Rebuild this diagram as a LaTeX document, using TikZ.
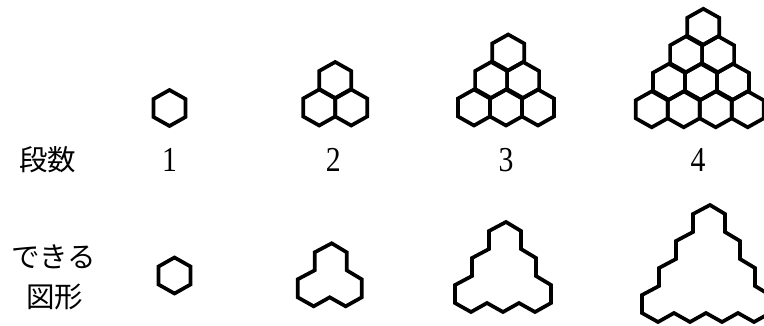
\documentclass[tikz,border=0pt]{standalone}
\usepackage{fontspec}
\usepackage{amsmath}
\newfontfamily\jpfont{Noto Sans CJK JP}
\newfontfamily\digitfont{Liberation Serif}
\usetikzlibrary{positioning}
% one cell of the stack, centred on the given point
\newcommand{\hexcell}[2]{\draw[cell] (#1,#2-18) -- ++(16,9) -- ++(0,18) -- ++(-16,9) -- ++(-16,-9) -- ++(0,-18) -- cycle;}

\begin{document}
\begin{tikzpicture}[x=1pt,y=-1pt,
  cell/.style={line width=3.7pt,black,line join=miter},
  rim/.style={line width=3.7pt,black,line join=miter},
  head/.style={font=\jpfont\fontsize{28.5}{34}\selectfont,align=center,inner sep=0pt},
  num/.style={font=\digitfont\fontsize{35}{40}\selectfont,inner sep=0pt,transform shape,xscale=0.85}]
\useasboundingbox (0,0) rectangle (764,325);
% upper row
\foreach \cx/\by/\n/\sk in {169.5/108/1/0, 335.2/107.5/2/0, 506/107.5/3/1.1, 699.7/109.3/4/1.2}
  {\foreach \r in {1,...,\n}
    {\foreach \k in {1,...,\r}
      {\pgfmathsetmacro{\hx}{\cx+(\k-(\r+1)/2)*32+(\n-\r)*\sk}
       \pgfmathsetmacro{\hy}{\by-(\n-\r)*27.5}
       \hexcell{\hx}{\hy}}}}
\node[head] (dan) at (48,160) {段数};
\foreach \n/\x in {1/169.5, 2/333.3, 3/506, 4/698}
  \node[num] (num\n) at (\x,160) {\n};
% lower row
\foreach \ax/\ay/\n/\dl/\dr in {174.5/257.5/1/16/16, 331.7/243.3/2/17/15, 506/222/3/17/15, 710/205/4/17/15}
  {\draw[rim] (\ax,\ay)
     \foreach \i in {1,...,\n} {-- ++(\dr,9) -- ++(0,18)}
     \foreach \i in {1,...,\n} {-- ++(-16,9) -- ++(-16,-9)}
     \foreach \i in {1,...,\n} {-- ++(0,-18) -- ++(\dl,-9)} -- cycle;}
\node[head] (dekiru) at (53.5,257) {できる};
\node[head] (zukei) at (55,297) {図形};
\end{tikzpicture}
\end{document}
